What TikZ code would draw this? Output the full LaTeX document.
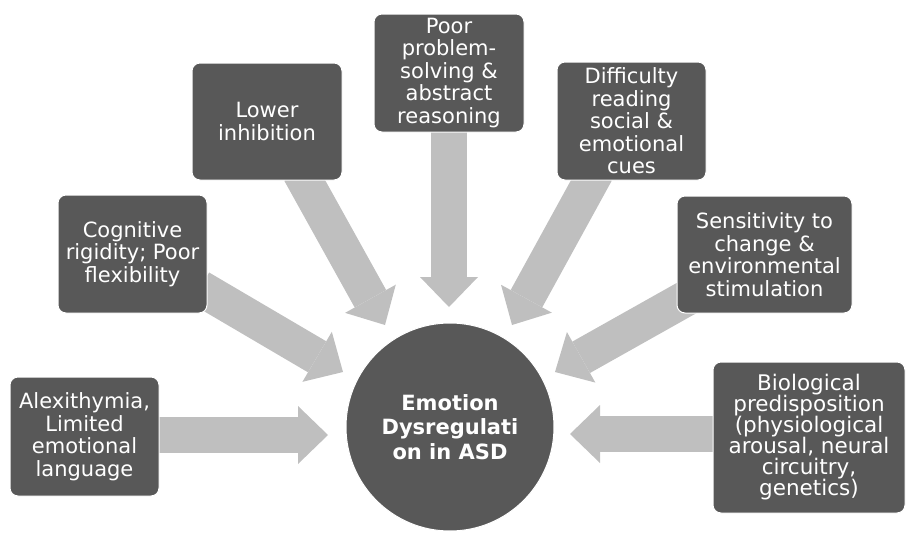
\documentclass[tikz,border=0pt]{standalone}
\usepackage{fontspec}
\setmainfont{DejaVu Sans}
\usetikzlibrary{arrows.meta}
\definecolor{boxgray}{HTML}{585858}
\definecolor{arrowgray}{HTML}{BFBFBF}
\begin{document}
\begin{tikzpicture}[x=1pt,y=-1pt,
  factor/.style={fill=boxgray, draw=white, line width=1pt, rounded corners=8pt,
    text=white, align=center, font=\fontsize{21}{22.5}\selectfont, inner sep=0pt},
  bigarrow/.style={draw=arrowgray, line width=36pt,
    -{Triangle[width=58pt,length=30pt,line width=0pt]}},
  hub/.style={circle, fill=boxgray, draw=white, line width=1pt, inner sep=0pt,
    minimum size=208pt, text=white, align=center,
    font=\bfseries\fontsize{21}{24.5}\selectfont}
]
\useasboundingbox (0,0) rectangle (906,536);

% arrow end points
\coordinate (s1) at (150,435);  \coordinate (t1) at (328,435);
\coordinate (s2) at (200,288);  \coordinate (t2) at (343,372);
\coordinate (s3) at (300,172);  \coordinate (t3) at (385,325);
\coordinate (s4) at (449,120);  \coordinate (t4) at (449,307);
\coordinate (s5) at (596,172);  \coordinate (t5) at (512,325);
\coordinate (s6) at (692,295);  \coordinate (t6) at (555,372);
\coordinate (s7) at (722,434);  \coordinate (t7) at (570,434);

\foreach \i in {1,...,7} {\draw[bigarrow] (s\i) -- (t\i);}

\node[hub] (c) at (450,427) {Emotion\\Dysregulati\\on in ASD};

\node[factor, minimum width=149pt, minimum height=119pt] (alex) at (84.5,436.5)
  {Alexithymia,\\Limited\\emotional\\language};
\node[factor, minimum width=149pt, minimum height=118pt] (cog) at (132.5,254)
  {Cognitive\\rigidity; Poor\\flexibility};
\node[factor, minimum width=150pt, minimum height=117pt] (inh) at (267,121.5)
  {Lower\\inhibition};
\node[factor, minimum width=150pt, minimum height=118pt] (prob) at (449,73)
  {Poor\\problem-\\solving \&\\abstract\\reasoning};
\node[factor, minimum width=149pt, minimum height=118pt] (cues) at (631.5,121)
  {Difficulty\\reading\\social \&\\emotional\\cues};
\node[factor, minimum width=175pt, minimum height=117pt] (sens) at (764.5,254.5)
  {Sensitivity to\\change \&\\environmental\\stimulation};
\node[factor, minimum width=192pt, minimum height=151pt,
      font=\fontsize{21.5}{21}\selectfont] (bio) at (809,437.5)
  {Biological\\predisposition\\(physiological\\arousal, neural\\circuitry,\\genetics)};
\end{tikzpicture}
\end{document}
